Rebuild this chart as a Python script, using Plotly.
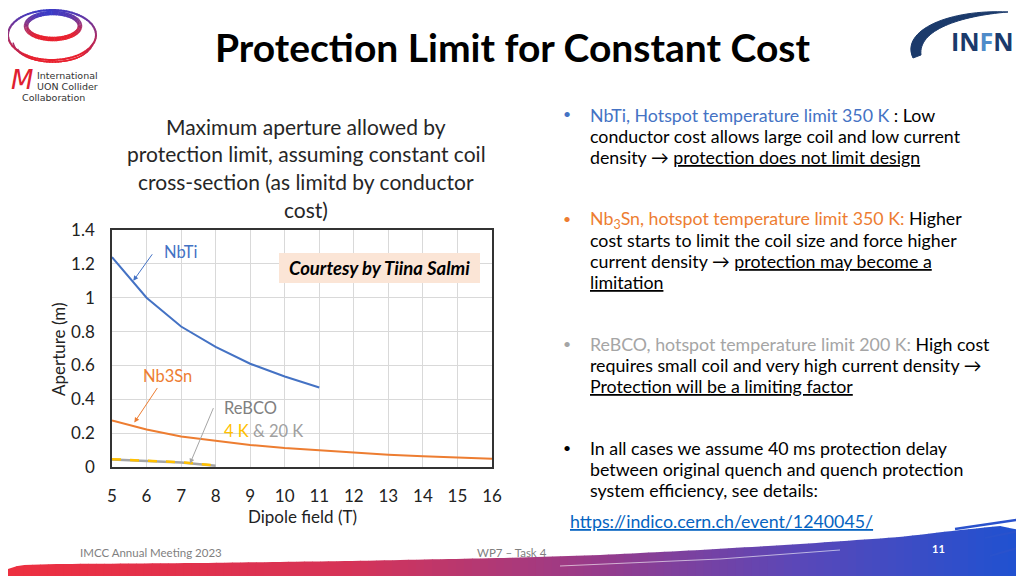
import numpy as np
import plotly.graph_objects as go

# ---------------- data ----------------
field_nbti = [5, 6, 7, 8, 9, 10, 11]
aperture_nbti = [1.24, 1.0, 0.83, 0.71, 0.61, 0.535, 0.47]

field_nb3sn = [5, 6, 7, 8, 9, 10, 11, 12, 13, 14, 15, 16]
aperture_nb3sn = [0.275, 0.222, 0.18, 0.154, 0.13, 0.112, 0.098, 0.085, 0.073, 0.063, 0.055, 0.048]

field_rebco = [5, 6, 7, 8]
aperture_rebco_20k = [0.045, 0.036, 0.027, 0.008]
aperture_rebco_4k = [0.046, 0.037, 0.028, 0.009]

x_ticks = [5, 6, 7, 8, 9, 10, 11, 12, 13, 14, 15, 16]
y_ticks = [0, 0.2, 0.4, 0.6, 0.8, 1.0, 1.2, 1.4]
y_tick_labels = ["0", "0.2", "0.4", "0.6", "0.8", "1", "1.2", "1.4"]

C_BLUE = "#4472C4"
C_ORANGE = "#ED7D31"
C_GRAY = "#A5A5A5"
C_YELLOW = "#FFC000"
FONT = "Lato"

# the page places the figure 8px from the top-left corner (body margin),
# so the figure is drawn in screen pixels shifted by OFF
OFF = 8
W, H = 1024 - OFF, 576 - OFF


def px(x):
    return (x - OFF) / W


def py(y):
    return 1 - (y - OFF) / H


# plot area in screen pixels
PL, PR, PT, PB = 112, 492, 230, 467

fig = go.Figure()

fig.add_trace(go.Scatter(x=field_nbti, y=aperture_nbti, mode="lines",
                         line=dict(color=C_BLUE, width=2), name="NbTi", showlegend=False))
fig.add_trace(go.Scatter(x=field_nb3sn, y=aperture_nb3sn, mode="lines",
                         line=dict(color=C_ORANGE, width=2), name="Nb3Sn", showlegend=False))
fig.add_trace(go.Scatter(x=field_rebco, y=aperture_rebco_20k, mode="lines",
                         line=dict(color=C_GRAY, width=2.5), name="ReBCO 20 K", showlegend=False))
fig.add_trace(go.Scatter(x=field_rebco, y=aperture_rebco_4k, mode="lines",
                         line=dict(color=C_YELLOW, width=2.5, dash="dash"), name="ReBCO 4 K",
                         showlegend=False))

shapes = []
ann = []


def text(x, y, t, size=16, color="#000", anchor="left", vanchor="middle", family=FONT, angle=0):
    ann.append(dict(x=px(x), y=py(y), xref="paper", yref="paper", text=t, showarrow=False,
                    xanchor=anchor, yanchor=vanchor, textangle=angle,
                    font=dict(family=family, size=size, color=color)))


# ---------------- chart annotations ----------------
def arrow(xd, yd, ax, ay, color):
    ann.append(dict(x=xd, y=yd, xref="x", yref="y", ax=ax, ay=ay, axref="pixel", ayref="pixel",
                    text="", showarrow=True, arrowhead=2, arrowsize=1, arrowwidth=1,
                    arrowcolor=color))


arrow(5.617, 1.10, 20, -28, C_BLUE)
arrow(5.646, 0.263, 24, -36, C_ORANGE)
arrow(7.258, 0.02, 24, -57, C_GRAY)

text(180, 252, "NbTi", 16.5, C_BLUE, "center")
text(167, 376, "Nb3Sn", 16.5, C_ORANGE, "center")
text(222, 408, "ReBCO", 16.5, "#7F7F7F")
text(222, 431, f"<span style='color:{C_YELLOW}'>4 K</span> & 20 K", 16.5, "#A0A0A0")

# courtesy box
shapes.append(dict(type="rect", xref="paper", yref="paper", x0=px(279), x1=px(480),
                   y0=py(283), y1=py(253), fillcolor="#FBE5D6", line=dict(width=0)))
text(379.5, 268, "<b><i>Courtesy by Tiina Salmi</i></b>", 18.5, "#000", "center")

# axis titles
text(302, 516, "Dipole field (T)", 17, "#222", "center")
text(58, 349, "Aperture (m)", 17, "#222", "center", angle=-90)

# chart title lines
title_lines = ["Maximum aperture allowed by", "protection limit, assuming constant coil",
               "cross-section (as limitd by conductor", "cost)"]
for i, t in enumerate(title_lines):
    text(306, 126 + i * 27.8, t, 21, "#262626", "center")

# ---------------- slide title ----------------
text(512, 47, "<b>Protection Limit for Constant Cost</b>", 39, "#000", "center")

# ---------------- right bullets ----------------
BX, TX = 567, 588
FS = 17.8
lines = [
    (115, f"<span style='color:{C_BLUE}'>NbTi, Hotspot temperature limit 350 K</span> : Low", C_BLUE),
    (136, "conductor cost allows large coil and low current", None),
    (157, "density → <u>protection does not limit design</u>", None),
    (219, f"<span style='color:{C_ORANGE}'>Nb<sub>3</sub>Sn, hotspot temperature limit 350 K:</span> Higher", C_ORANGE),
    (240, "cost starts to limit the coil size and force higher", None),
    (261, "current density → <u>protection may become a</u>", None),
    (282, "<u>limitation</u>", None),
    (344, f"<span style='color:{C_GRAY}'>ReBCO, hotspot temperature limit 200 K:</span> High cost", C_GRAY),
    (365, "requires small coil and very high current density →", None),
    (386, "<u>Protection will be a limiting factor</u>", None),
    (448, "In all cases we assume 40 ms protection delay", "#000"),
    (469, "between original quench and quench protection", None),
    (490, "system efficiency, see details:", None),
]
for y, t, bullet in lines:
    if bullet:
        text(BX, y - 1, "•", 14, bullet, "center")
    text(TX, y, t, FS, "#000")
text(568, 521, "<u>https://indico.cern.ch/event/1240045/</u>", FS, "#0563C1")

# ---------------- bottom brush stroke ----------------
top_x = [8, 20, 60, 200, 350, 500, 600, 700, 800, 900, 960, 1000, 1024]
top_y = [569, 565, 564, 563, 561, 558, 555, 550, 544, 537, 530, 526, 531]
col_x = [0, 350, 600, 800, 1024]
col_r = [238, 214, 150, 90, 30]
col_g = [48, 52, 60, 72, 82]
col_b = [64, 88, 140, 185, 210]
step = 8
for x0 in range(OFF, 1024, step):
    x1 = x0 + step
    t0 = np.interp(x0, top_x, top_y)
    t1 = np.interp(x1, top_x, top_y)
    xm = (x0 + x1) / 2
    c = "rgb(%d,%d,%d)" % (np.interp(xm, col_x, col_r), np.interp(xm, col_x, col_g),
                            np.interp(xm, col_x, col_b))
    path = "M %f %f L %f %f L %f %f L %f %f Z" % (px(x0), py(t0), px(x1 + 0.5), py(t1),
                                                 px(x1 + 0.5), py(577), px(x0), py(577))
    shapes.append(dict(type="path", xref="paper", yref="paper", path=path, fillcolor=c,
                       line=dict(width=0), layer="below"))
# a couple of strands at the right end
for (xa, ya, xb, yb, w) in [(955, 529, 1022, 519, 2.5), (985, 538, 1024, 530, 2),
                            (990, 556, 1024, 546, 2)]:
    shapes.append(dict(type="line", xref="paper", yref="paper", x0=px(xa), y0=py(ya), x1=px(xb),
                       y1=py(yb), line=dict(color="#2A52CC", width=w)))
# light streak inside the stroke
shapes.append(dict(type="path", xref="paper", yref="paper",
                   path="M %f %f L %f %f L %f %f" % (px(560), py(566), px(720), py(559), px(840), py(550)),
                   line=dict(color="rgba(255,255,255,0.6)", width=1)))

# footer text
text(78, 552, "IMCC Annual Meeting 2023", 11.5, "#7F7F7F")
text(512, 552, "WP7 – Task 4", 11.5, "#7F7F7F", "center")
text(938, 548, "<b>11</b>", 11, "#FFFFFF", "center")

# ---------------- IMCC logo ----------------
def lerp_col(t):
    # t=0 -> blue (top), t=1 -> red (bottom)
    r = int(58 + (232 - 58) * t)
    g = int(60 + (32 - 60) * t)
    b = int(200 + (46 - 200) * t)
    return "rgb(%d,%d,%d)" % (r, g, b)


def ellipse(cx, cy, rx, ry, width, a0=0, a1=2 * np.pi, n=96):
    angs = np.linspace(a0, a1, n + 1)
    for i in range(n):
        aa, ab = angs[i], angs[i + 1] + 0.02
        xa, ya = cx + rx * np.cos(aa), cy + ry * np.sin(aa)
        xb, yb = cx + rx * np.cos(ab), cy + ry * np.sin(ab)
        t = (np.sin((aa + ab) / 2) + 1) / 2
        t = min(1, max(0, t * 1.1 + (0.05 if np.cos((aa + ab) / 2) > 0 else 0)))
        shapes.append(dict(type="line", xref="paper", yref="paper", x0=px(xa), y0=py(ya),
                           x1=px(xb), y1=py(yb), line=dict(color=lerp_col(t), width=width)))


ellipse(53, 26, 27, 13, 4.5)
ellipse(52, 35, 44, 25, 2)
ellipse(53, 41, 40, 21, 1.5, 0.1, np.pi - 0.1, 40)
ellipse(53, 46, 36, 16, 1.2, 0.2, np.pi - 0.2, 36)

text(22, 80, "<i>M</i>", 26, "#E02030", "center", family="DejaVu Sans")
text(35, 75, "International", 9.5, "#333", family="DejaVu Sans")
text(35, 86, "UON Collider", 9.5, "#333", family="DejaVu Sans")
text(20, 97, "Collaboration", 9.5, "#333", family="DejaVu Sans")

# ---------------- INFN logo ----------------
infn_path = "M %f %f C %f %f %f %f %f %f C %f %f %f %f %f %f Z" % (
    px(913), py(58), px(900), py(30), px(950), py(9), px(1008), py(12),
    px(960), py(16), px(918), py(30), px(921), py(55))
shapes.append(dict(type="path", xref="paper", yref="paper", path=infn_path,
                   fillcolor="#1B3A6B", line=dict(color="#1B3A6B", width=1)))
text(982, 41, "<b>IN<span style='color:#4F8BC9'>F</span>N</b>", 25, "#1B3A6B", "center",
     family="Open Sans")

fig.update_layout(
    width=W, height=H,
    margin=dict(l=0, r=0, t=0, b=0, pad=0, autoexpand=False),
    paper_bgcolor="white", plot_bgcolor="white",
    showlegend=False,
    shapes=shapes,
    annotations=ann,
    xaxis=dict(domain=[px(PL), px(PR)], range=[5, 16], tickvals=x_ticks, automargin=False,
               showgrid=True, gridcolor="#D9D9D9", gridwidth=1,
               showline=True, linecolor="#333", linewidth=1.5, mirror=True,
               ticks="outside", ticklen=13, tickcolor="rgba(0,0,0,0)",
               tickfont=dict(family=FONT, size=17, color="#222"), zeroline=False,
               fixedrange=True),
    yaxis=dict(domain=[py(PB), py(PT)], range=[0, 1.4], tickvals=y_ticks, ticktext=y_tick_labels,
               automargin=False,
               showgrid=True, gridcolor="#D9D9D9", gridwidth=1,
               showline=True, linecolor="#333", linewidth=1.5, mirror=True,
               ticks="outside", ticklen=12, tickcolor="rgba(0,0,0,0)",
               tickfont=dict(family=FONT, size=17, color="#222"), zeroline=False,
               fixedrange=True),
)

fig.write_html("out.html", config={"displayModeBar": False})
